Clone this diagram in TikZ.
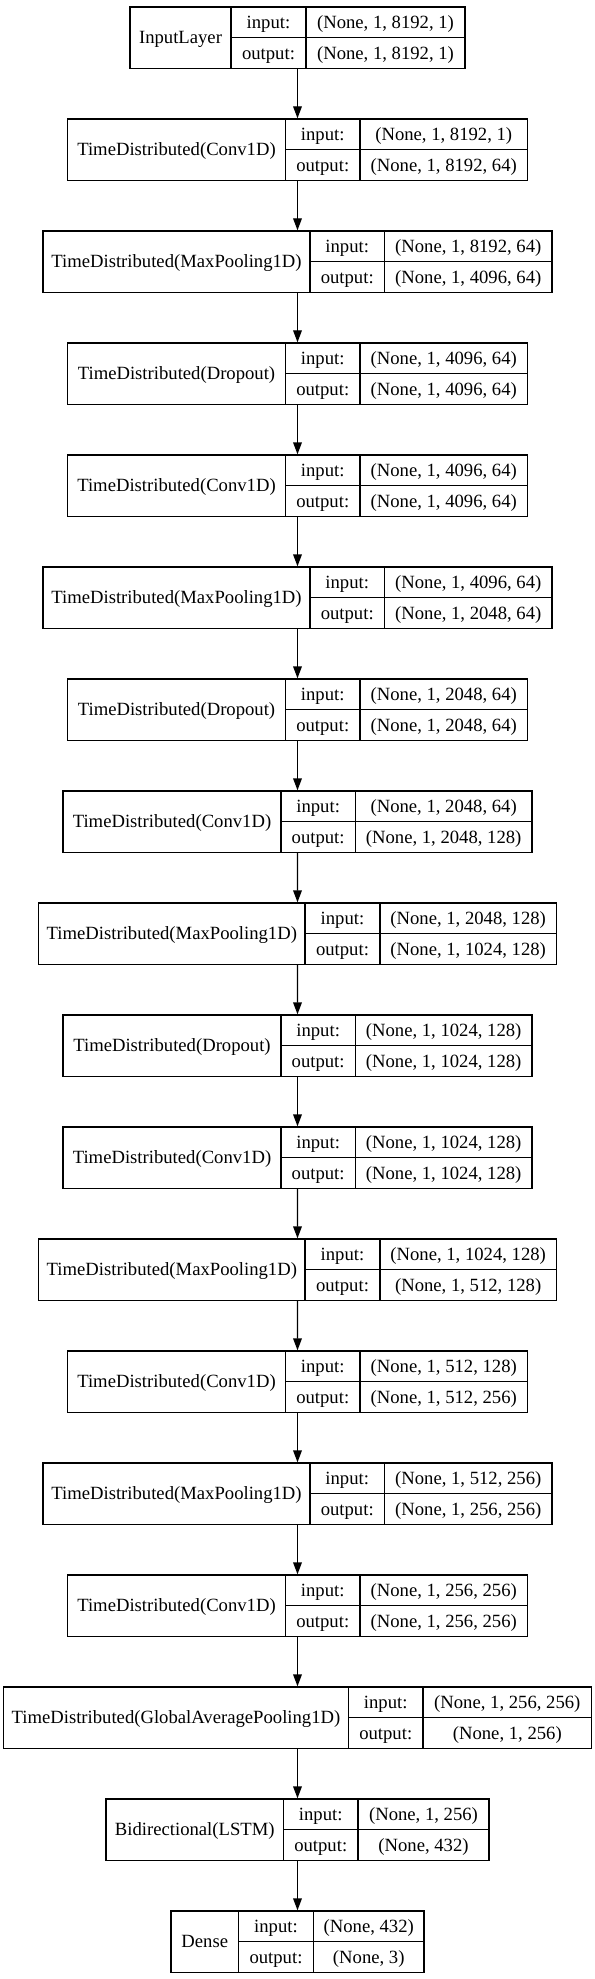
\documentclass[tikz,border=0pt]{standalone}
\usepackage{fontspec}
\setmainfont{Liberation Serif}
\usetikzlibrary{arrows.meta,fit}
\tikzset{
  box/.style={draw, line width=1pt, inner sep=0pt},
  txt/.style={font=\fontsize{14pt}{16pt}\selectfont, inner sep=0pt, text height=9.2pt, text depth=0pt},
  cell/.style={line width=1pt},
  arr/.style={line width=1pt, -{Triangle[length=9pt,width=6.5pt]}},
}
\newcommand\kbox[9]{%
  \pgfmathsetmacro\kyb{#2+61.5}%
  \pgfmathsetmacro\kym{#2+30.75}%
  \pgfmathsetmacro\kyi{#2+15.4}%
  \pgfmathsetmacro\kyo{#2+46.1}%
  \pgfmathsetmacro\kxa{(#3+#4)/2}%
  \pgfmathsetmacro\kxb{(#4+#5)/2}%
  \pgfmathsetmacro\kxc{(#5+#6)/2}%
  \node[box, fit={(#3,#2) (#6,\kyb)}] (#1) {};
  \draw[cell] (#4,#2) -- (#4,\kyb) (#5,#2) -- (#5,\kyb) (#4,\kym) -- (#6,\kym);
  \node[txt] (#1-name) at (\kxa,\kym) {#7};
  \node[txt] (#1-inl) at (\kxb,\kyi) {input:};
  \node[txt] (#1-outl) at (\kxb,\kyo) {output:};
  \node[txt] (#1-in) at (\kxc,\kyi) {#8};
  \node[txt] (#1-out) at (\kxc,\kyo) {#9};
}
\begin{document}
\begin{tikzpicture}[x=0.75pt,y=-0.75pt]
\fill[white] (0,0) rectangle (595,1979);
\useasboundingbox (0,0) rectangle (595,1979);
\kbox{L0}{7}{130}{231}{306}{465}{InputLayer}{(None, 1, 8192, 1)}{(None, 1, 8192, 1)}
\kbox{L1}{119}{67.5}{285.5}{360}{527.5}{TimeDistributed(Conv1D)}{(None, 1, 8192, 1)}{(None, 1, 8192, 64)}
\kbox{L2}{231}{43}{310}{384.5}{552}{TimeDistributed(MaxPooling1D)}{(None, 1, 8192, 64)}{(None, 1, 4096, 64)}
\kbox{L3}{343}{67.5}{285.5}{360}{527.5}{TimeDistributed(Dropout)}{(None, 1, 4096, 64)}{(None, 1, 4096, 64)}
\kbox{L4}{455}{67.5}{285.5}{360}{527.5}{TimeDistributed(Conv1D)}{(None, 1, 4096, 64)}{(None, 1, 4096, 64)}
\kbox{L5}{567}{43}{310}{384.5}{552}{TimeDistributed(MaxPooling1D)}{(None, 1, 4096, 64)}{(None, 1, 2048, 64)}
\kbox{L6}{679}{67.5}{285.5}{360}{527.5}{TimeDistributed(Dropout)}{(None, 1, 2048, 64)}{(None, 1, 2048, 64)}
\kbox{L7}{791}{63}{281}{355.3}{532}{TimeDistributed(Conv1D)}{(None, 1, 2048, 64)}{(None, 1, 2048, 128)}
\kbox{L8}{903}{38.7}{305}{380}{556.3}{TimeDistributed(MaxPooling1D)}{(None, 1, 2048, 128)}{(None, 1, 1024, 128)}
\kbox{L9}{1015}{63}{281}{355.3}{532}{TimeDistributed(Dropout)}{(None, 1, 1024, 128)}{(None, 1, 1024, 128)}
\kbox{L10}{1127}{63}{281}{355.3}{532}{TimeDistributed(Conv1D)}{(None, 1, 1024, 128)}{(None, 1, 1024, 128)}
\kbox{L11}{1239}{38.7}{305}{380}{556.3}{TimeDistributed(MaxPooling1D)}{(None, 1, 1024, 128)}{(None, 1, 512, 128)}
\kbox{L12}{1351}{67.5}{285.5}{360}{527.5}{TimeDistributed(Conv1D)}{(None, 1, 512, 128)}{(None, 1, 512, 256)}
\kbox{L13}{1463}{43}{310}{384.5}{552}{TimeDistributed(MaxPooling1D)}{(None, 1, 512, 256)}{(None, 1, 256, 256)}
\kbox{L14}{1575}{67.5}{285.5}{360}{527.5}{TimeDistributed(Conv1D)}{(None, 1, 256, 256)}{(None, 1, 256, 256)}
\kbox{L15}{1687}{3.5}{348.4}{423.1}{591.5}{TimeDistributed(GlobalAveragePooling1D)}{(None, 1, 256, 256)}{(None, 1, 256)}
\kbox{L16}{1799}{106}{283.5}{358}{489}{Bidirectional(LSTM)}{(None, 1, 256)}{(None, 432)}
\kbox{L17}{1911}{171}{238.5}{313.5}{424}{Dense}{(None, 432)}{(None, 3)}
\foreach \a/\b in {L0/L1,L1/L2,L2/L3,L3/L4,L4/L5,L5/L6,L6/L7,L7/L8,L8/L9,L9/L10,L10/L11,L11/L12,L12/L13,L13/L14,L14/L15,L15/L16,L16/L17}
  \draw[arr] (\a.south) -- (\b.north);
\end{tikzpicture}
\end{document}
